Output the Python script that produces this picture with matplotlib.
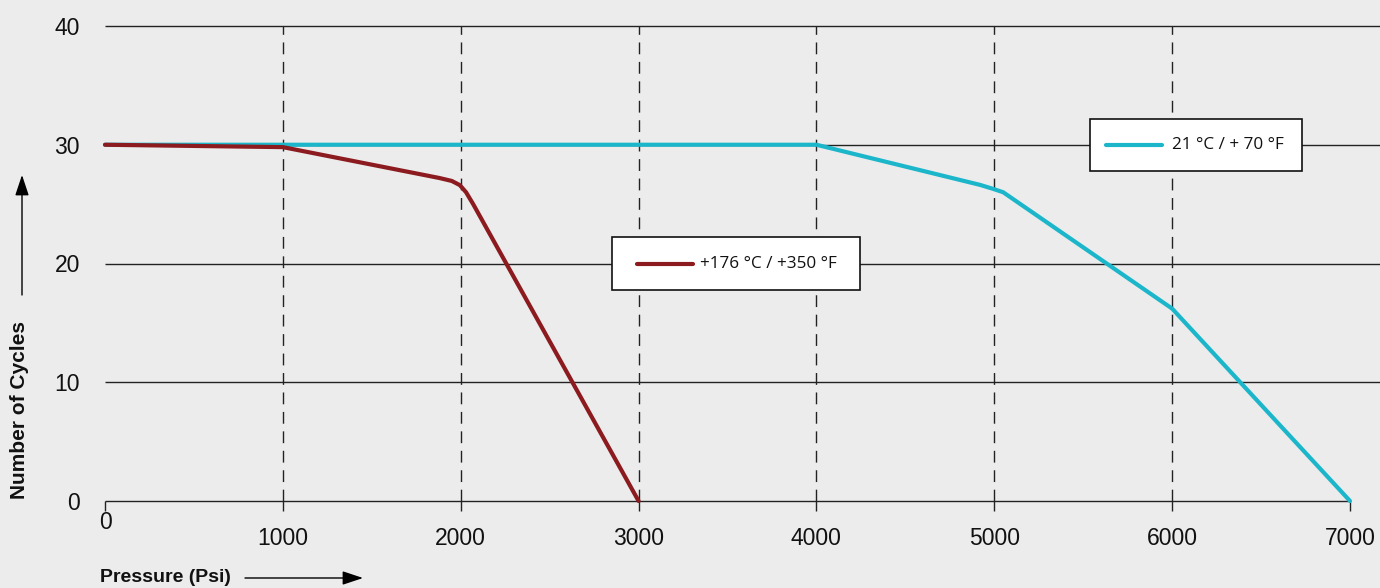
import numpy as np
import matplotlib.pyplot as plt
from matplotlib.lines import Line2D
from matplotlib.patches import Rectangle
from matplotlib.transforms import ScaledTranslation

# --- data ---
x_ticks = [0, 1000, 2000, 3000, 4000, 5000, 6000, 7000]
y_ticks = [0, 10, 20, 30, 40]

hot_psi = [0, 1000, 1880, 1950, 1995, 2030, 2070, 3000]
hot_cycles = [30.0, 29.8, 27.2, 26.95, 26.6, 26.0, 25.0, 0.0]

room_psi = [0, 4000, 4920, 4990, 5050, 6000, 7000]
room_cycles = [30.0, 30.0, 26.62, 26.3, 26.0, 16.2, 0.0]

hot_label = "+176 °C / +350 °F"
room_label = "21 °C / + 70 °F"

RED = "#8c1b1f"
CYAN = "#1cb6cb"
BG = "#ececec"

W, H, DPI = 1380, 588, 100
fig = plt.figure(figsize=(W / DPI, H / DPI), dpi=DPI, facecolor=BG)


def fx(px):
    return px / W


def fy(py):
    return 1 - py / H


# axes: x=0 at px 105, x=7000 at px 1350, y=0 at px 501, y=40 at px 26
x0_px, x7_px = 105, 1350
y0_px, y40_px = 501, 26
ax = fig.add_axes([x0_px / W, (H - y0_px) / H, (W - x0_px) / W, (y0_px - y40_px) / H])
ax.set_facecolor("none")
xmax = 7000 * (W - x0_px) / (x7_px - x0_px)
ax.set_xlim(0, xmax)
ax.set_ylim(0, 40)
for s in ax.spines.values():
    s.set_visible(False)

# grid
ax.hlines([10, 20, 30, 40], 0, xmax, color="#222222", lw=1.0, clip_on=False, zorder=1)
ax.hlines(0, 0, 7000, color="#222222", lw=1.0, clip_on=False, zorder=1)
ax.vlines(x_ticks[1:-1], 0, 40, color="#222222", lw=1.0, linestyles=(0, (8.5, 5.5)), zorder=1)

# curves
ax.plot(room_psi, room_cycles, color=CYAN, lw=3.0, solid_capstyle="round",
        solid_joinstyle="round", zorder=3, clip_on=False)
ax.plot(hot_psi, hot_cycles, color=RED, lw=3.0, solid_capstyle="round",
        solid_joinstyle="round", zorder=4, clip_on=False)

# ticks
ax.set_xticks(x_ticks)
ax.set_xticklabels([str(v) for v in x_ticks])
ax.set_yticks(y_ticks)
ax.set_yticklabels([str(v) for v in y_ticks])
ax.tick_params(axis="x", length=7.5, width=1.0, color="#222222", pad=11,
               labelsize=16.5, labelcolor="#111111")
ax.tick_params(axis="y", length=0, pad=18, labelsize=16.5, labelcolor="#111111")
for lab in ax.get_xticklabels() + ax.get_yticklabels():
    lab.set_fontfamily("Liberation Sans")
# the "0" on the x axis sits higher than the others
first = ax.get_xticklabels()[0]
first.set_transform(first.get_transform() + ScaledTranslation(0, 16 / DPI, fig.dpi_scale_trans))


# legend boxes (one per curve, placed like the reference)
def legend_box(color, label, left, top, right, bottom, line_x0, line_x1, text_x):
    fig.add_artist(Rectangle((fx(left), fy(bottom)), fx(right) - fx(left), fy(top) - fy(bottom),
                             transform=fig.transFigure, facecolor="white",
                             edgecolor="#111111", lw=1.2, zorder=5))
    yc = (top + bottom) / 2
    fig.add_artist(Line2D([fx(line_x0), fx(line_x1)], [fy(yc), fy(yc)],
                          transform=fig.transFigure, color=color, lw=3.0,
                          solid_capstyle="round", zorder=6))
    fig.text(fx(text_x), fy(yc), label, ha="left", va="center", fontsize=12.3,
             family="Open Sans", color="#111111", zorder=6)


legend_box(RED, hot_label, 612, 237, 860, 290, 637, 693, 700)
legend_box(CYAN, room_label, 1090, 119, 1302, 171, 1106, 1162, 1172)

# axis titles with arrows
fig.text(fx(20), fy(410), "Number of Cycles", rotation=90, ha="center", va="center",
         fontsize=15, fontweight="bold", family="Liberation Sans", color="#111111")
fig.text(fx(100), fy(578), "Pressure (Psi)", ha="left", va="center",
         fontsize=14, fontweight="bold", family="Liberation Sans", color="#111111")
ax.annotate("", xy=(fx(22), fy(175)), xytext=(fx(22), fy(295)),
            xycoords=fig.transFigure, textcoords=fig.transFigure,
            arrowprops=dict(arrowstyle="-|>,head_length=0.9,head_width=0.3", color="black",
                            lw=1.0, mutation_scale=14, shrinkA=0, shrinkB=0))
ax.annotate("", xy=(fx(363), fy(578)), xytext=(fx(245), fy(578)),
            xycoords=fig.transFigure, textcoords=fig.transFigure,
            arrowprops=dict(arrowstyle="-|>,head_length=0.9,head_width=0.3", color="black",
                            lw=1.0, mutation_scale=14, shrinkA=0, shrinkB=0))

fig.savefig("out.png", dpi=DPI, facecolor=BG)
